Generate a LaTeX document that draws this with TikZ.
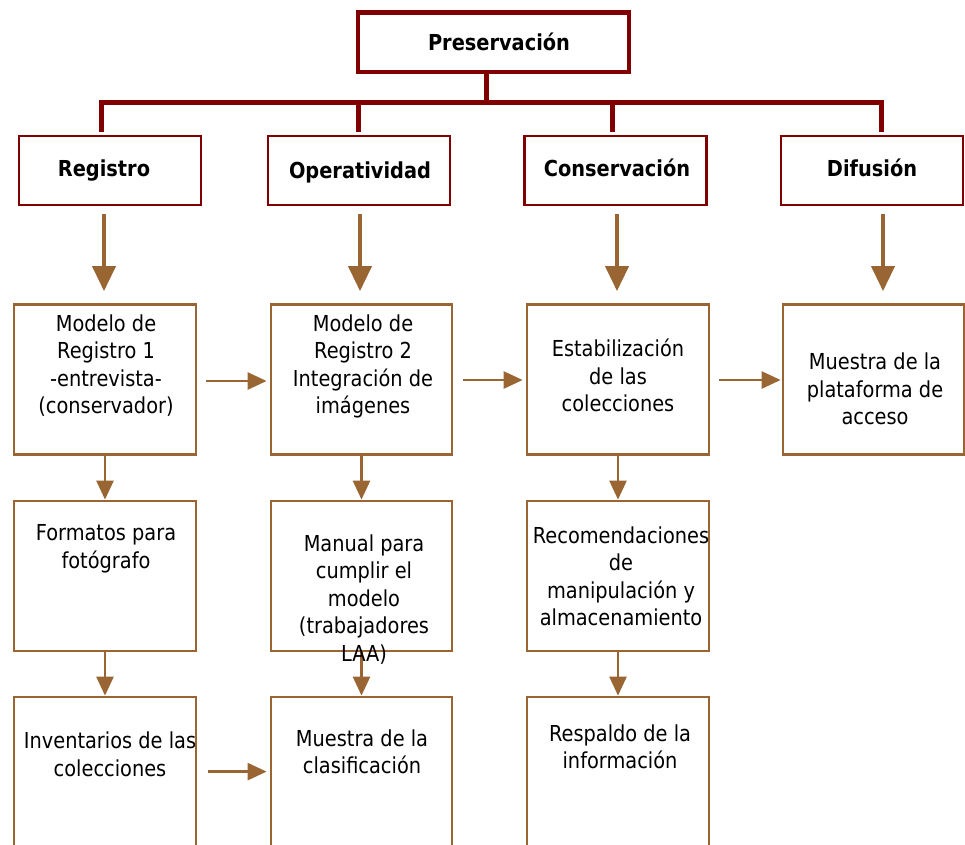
\documentclass[tikz,border=0pt]{standalone}
\usepackage{fontspec}
\setmainfont{DejaVu Sans}[FakeStretch=0.88]
\usetikzlibrary{arrows.meta,calc}
\definecolor{dred}{RGB}{128,0,0}
\definecolor{brn}{RGB}{153,102,51}
\begin{document}
\begin{tikzpicture}[x=1pt,y=-1pt,
  lbl/.style={anchor=north, align=center, inner sep=0pt, font=\fontsize{22}{27.5}\selectfont, execute at begin node={\rule{0pt}{20pt}}},
  hd/.style={lbl, font=\fontsize{22}{27.5}\selectfont\bfseries},
  hbox/.style={draw=dred, line width=2.4pt, minimum width=182pt, minimum height=69pt, inner sep=0pt},
  pbox/.style={draw=dred, line width=4.5pt, minimum width=271pt, minimum height=59.5pt, inner sep=0pt},
  rline/.style={draw=dred, line width=5pt},
  bbox/.style={draw=brn, line width=2.8pt, minimum width=182pt, minimum height=150pt, inner sep=0pt},
  bigarr/.style={draw=brn, line width=4pt, -{Triangle[width=23pt,length=25pt]}},
  arr/.style={draw=brn, line width=2.6pt, -{Triangle[width=17pt,length=19pt]}},
]
\useasboundingbox (0,0) rectangle (965,844);
\fill[white] (0,0) rectangle (965,844);
\clip (0,0) rectangle (965,844);

% top level
\node[pbox] (P) at (493.5,42.25) {};
\node[hbox] (h1) at (110,170.5) {};
\node[hbox] (h2) at (359,170.5) {};
\node[hbox] (h3) at (615.5,170.5) {};
\node[hbox] (h4) at (872,170.5) {};

\coordinate (j) at (486,102);
\coordinate (d1) at (101,102);
\coordinate (d2) at (358,102);
\coordinate (d3) at (612,102);
\coordinate (d4) at (881,102);
\draw[rline] (P.south -| j) -- (j);
\draw[rline, line join=miter] ($(d1 |- h1.north)+(0,-3)$) -- (d1) -- (d4) -- ($(d4 |- h4.north)+(0,-3)$);
\draw[rline] (d2) -- ($(d2 |- h2.north)+(0,-3)$);
\draw[rline] (d3) -- ($(d3 |- h3.north)+(0,-3)$);

% boxes
\node[bbox] (b11) at (105,379.5) {};
\node[bbox, minimum width=181pt] (b12) at (361.5,379.5) {};
\node[bbox] (b13) at (618,379.5) {};
\node[bbox, minimum width=181pt] (b14) at (873.5,379.5) {};
\node[bbox] (b21) at (105,576) {};
\node[bbox, minimum width=181pt] (b22) at (361.5,576) {};
\node[bbox] (b23) at (618,576) {};
\node[bbox, minimum height=200pt] (b31) at (105,797) {};
\node[bbox, minimum width=181pt, minimum height=200pt] (b32) at (361.5,797) {};
\node[bbox, minimum height=200pt] (b33) at (618,797) {};

% big arrows
\draw[bigarr] ($(h1.south)+(-6,8)$) -- ($(b11.north)+(-1,-12)$);
\draw[bigarr] ($(h2.south)+(1,8)$) -- ($(b12.north)+(-1.5,-12)$);
\draw[bigarr] ($(h3.south)+(1.5,8)$) -- ($(b13.north)+(-1,-12)$);
\draw[bigarr] ($(h4.south)+(11,8)$) -- ($(b14.north)+(9.5,-12)$);

% horizontal arrows
\draw[arr] ($(b11.east)+(9,1.5)$) -- ($(b12.west)+(-3,1.5)$);
\draw[arr] ($(b12.east)+(10,0.5)$) -- ($(b13.west)+(-3,0.5)$);
\draw[arr] ($(b13.east)+(9,0.5)$) -- ($(b14.west)+(-1,0.5)$);
\draw[arr] ($(b31.north east)+(11,76)$) -- ($(b32.north west)+(-3,76)$);

% vertical arrows
\draw[arr] (b11.south) -- (b21.north);
\draw[arr] (b12.south) -- (b22.north);
\draw[arr] (b13.south) -- (b23.north);
\draw[arr] (b21.south) -- (b31.north);
\draw[arr] (b22.south) -- (b32.north);
\draw[arr] (b23.south) -- (b33.north);

% texts
\node[hd] (tP) at (499,30) {Preservación};
\node[hd] (th1) at (104,156) {Registro};
\node[hd] (th2) at (360,158) {Operatividad};
\node[hd] (th3) at (617,156) {Conservación};
\node[hd] (th4) at (872,156) {Difusión};

\node[lbl] (t11) at (106,314.5) {Modelo de\\Registro 1\\-entrevista-\\(conservador)};
\node[lbl] (t12) at (363,314.5) {Modelo de\\Registro 2\\Integración de\\imágenes};
\node[lbl] (t13) at (618,339) {Estabilización\\de las\\colecciones};
\node[lbl] (t14) at (875,353) {Muestra de la\\plataforma de\\acceso};
\node[lbl] (t21) at (106,524.5) {Formatos para\\fotógrafo};
\node[lbl] (t22) at (364,534.5) {Manual para\\cumplir el\\modelo\\(trabajadores\\LAA)};
\node[lbl] (t23) at (621,526.5) {Recomendaciones\\de\\manipulación y\\almacenamiento};
\node[lbl] (t31) at (110,732) {Inventarios de las\\colecciones};
\node[lbl] (t32) at (362,729.5) {Muestra de la\\clasificación};
\node[lbl] (t33) at (620,724.5) {Respaldo de la\\información};
\end{tikzpicture}
\end{document}
